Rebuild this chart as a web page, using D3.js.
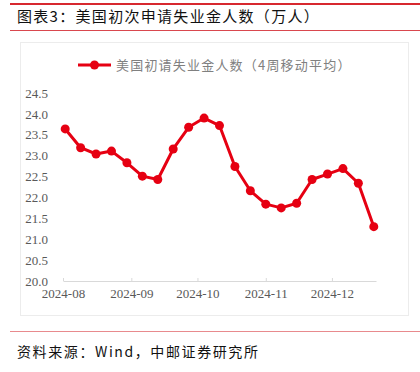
<!DOCTYPE html>
<html>
<head>
<meta charset="utf-8">
<script src="https://cdn.jsdelivr.net/npm/d3@7"></script>
<style>
    body { margin: 0; background: #fff; }
    svg { display: block; }
</style>
</head>
<body>
<svg id="chart" width="420" height="372"></svg>
<script>
// weekly dates (4-week moving average of initial jobless claims)
var weeks = ['2024-08-02', '2024-08-09', '2024-08-16', '2024-08-23', '2024-08-30',
    '2024-09-06', '2024-09-13', '2024-09-20', '2024-09-27', '2024-10-04',
    '2024-10-11', '2024-10-18', '2024-10-25', '2024-11-01', '2024-11-08',
    '2024-11-15', '2024-11-22', '2024-11-29', '2024-12-06', '2024-12-13', '2024-12-20'];
var claims = [23.64, 23.19, 23.04, 23.11, 22.83, 22.51, 22.43, 23.16, 23.68, 23.90,
    23.72, 22.74, 22.16, 21.84, 21.75, 21.86, 22.43, 22.56, 22.69, 22.34, 21.30];
var yTicks = [20.0, 20.5, 21.0, 21.5, 22.0, 22.5, 23.0, 23.5, 24.0, 24.5];
var xTicks = ['2024-08-01', '2024-09-01', '2024-10-01', '2024-11-01', '2024-12-01'];

var parse = d3.timeParse('%Y-%m-%d');
var data = weeks.map(function(w, i) {
    return { date: parse(w), value: claims[i] };
});

var svg = d3.select('#chart');
var red = '#e60012';

// header lines and title
svg.append('rect').attr('x', 10).attr('y', 3).attr('width', 410).attr('height', 2).attr('fill', '#d7282f');
svg.append('text')
    .attr('x', 17).attr('y', 22)
    .style('font-family', '"Noto Sans CJK SC"')
    .style('font-size', '15px')
    .style('letter-spacing', '1.3px')
    .attr('fill', '#111')
    .text('图表3：美国初次申请失业金人数（万人）');
svg.append('rect').attr('x', 10).attr('y', 30).attr('width', 410).attr('height', 1).attr('fill', '#d9484e');

// chart panel
svg.append('rect')
    .attr('x', 20.5).attr('y', 42.5).attr('width', 388).attr('height', 273)
    .attr('fill', 'none').attr('stroke', '#ececec');

var x = d3.scaleTime()
    .domain([parse('2024-08-01'), parse('2024-12-21')])
    .range([63, 376]);

var y = d3.scaleLinear()
    .domain([20, 24.5])
    .range([281, 93]);

// y labels (no axis line)
var yAxis = svg.append('g')
    .attr('transform', 'translate(48,0)')
    .call(d3.axisLeft(y).tickValues(yTicks).tickSize(0).tickPadding(0).tickFormat(d3.format('.1f')));
yAxis.select('.domain').remove();
yAxis.selectAll('text')
    .style('font-family', '"Liberation Serif", serif')
    .style('font-size', '13px')
    .attr('fill', '#595959');

// x axis
var xAxis = svg.append('g')
    .attr('transform', 'translate(0,281)')
    .call(d3.axisBottom(x)
        .tickValues(xTicks.map(parse))
        .tickSize(3)
        .tickSizeOuter(0)
        .tickPadding(5)
        .tickFormat(d3.timeFormat('%Y-%m')));
xAxis.select('.domain').attr('stroke', '#d9d9d9');
xAxis.selectAll('line').attr('stroke', '#d9d9d9').attr('y2', -3);
xAxis.selectAll('text')
    .style('font-family', '"Liberation Serif", serif')
    .style('font-size', '13px')
    .attr('fill', '#595959');

// legend
var legend = svg.append('g').attr('transform', 'translate(78,65)');
legend.append('line').attr('x1', 0).attr('x2', 33).attr('y1', 0).attr('y2', 0)
    .attr('stroke', red).attr('stroke-width', 3);
legend.append('circle').attr('cx', 16.5).attr('cy', 0).attr('r', 4.5).attr('fill', red);
legend.append('text')
    .attr('x', 38).attr('y', 5)
    .style('font-family', '"Noto Sans CJK SC"')
    .style('font-size', '13px')
    .style('letter-spacing', '1.2px')
    .attr('fill', '#808080')
    .text('美国初请失业金人数（4周移动平均）');

// line and markers
var line = d3.line()
    .x(function(d) { return x(d.date); })
    .y(function(d) { return y(d.value); });

svg.append('path')
    .datum(data)
    .attr('d', line)
    .attr('fill', 'none')
    .attr('stroke', red)
    .attr('stroke-width', 3)
    .attr('stroke-linejoin', 'round');

svg.selectAll('.dot')
    .data(data)
    .enter().append('circle')
    .attr('class', 'dot')
    .attr('cx', function(d) { return x(d.date); })
    .attr('cy', function(d) { return y(d.value); })
    .attr('r', 4.5)
    .attr('fill', red);

// source
svg.append('rect').attr('x', 10).attr('y', 331).attr('width', 410).attr('height', 1).attr('fill', '#e88a8d');
svg.append('text')
    .attr('x', 17).attr('y', 357)
    .style('font-family', '"Noto Sans CJK SC"')
    .style('font-size', '14px')
    .style('letter-spacing', '1.6px')
    .attr('fill', '#111')
    .text('资料来源：Wind，中邮证券研究所');
</script>
</body>
</html>
